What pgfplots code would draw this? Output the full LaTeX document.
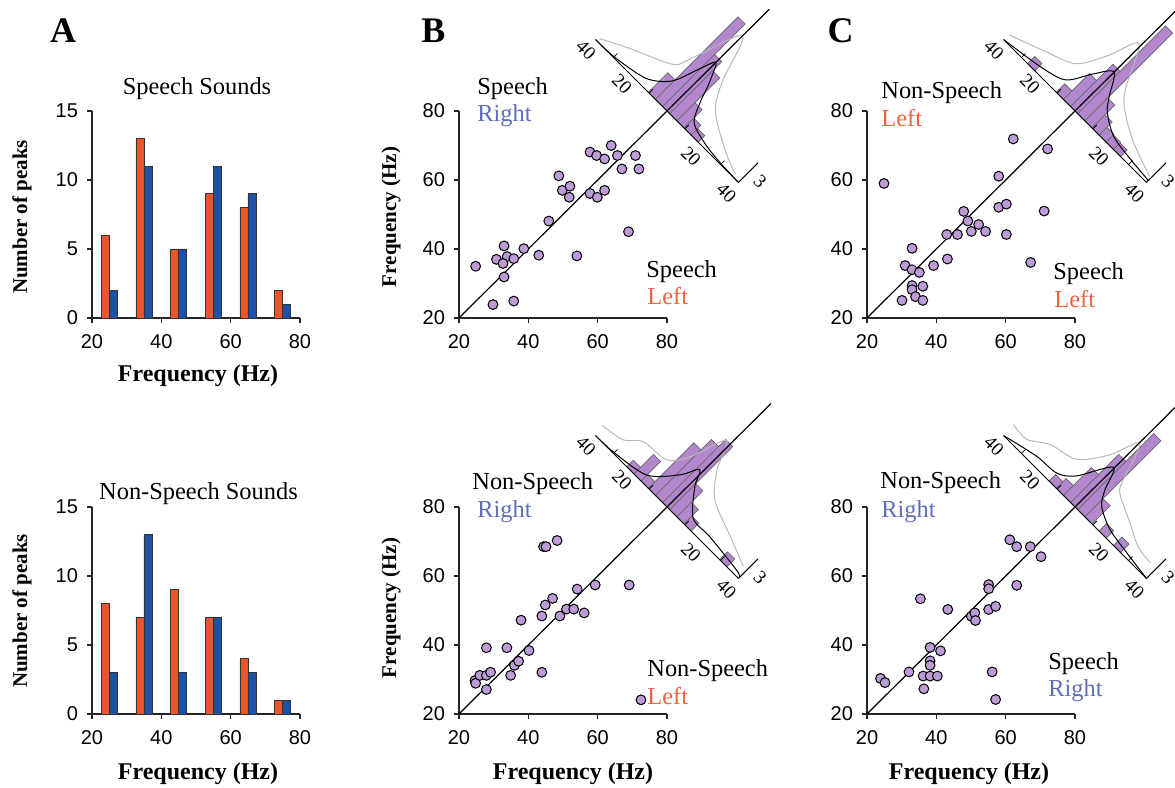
\documentclass[border=0pt]{standalone}
\usepackage{fontspec}
\setmainfont{Liberation Serif}
\newfontfamily\sansf{Liberation Sans}
\usepackage{pgfplots}
\pgfplotsset{compat=1.18}
\definecolor{orng}{RGB}{233,85,45}
\definecolor{blu}{RGB}{30,80,165}
\definecolor{ptfill}{RGB}{188,155,215}
\definecolor{histfill}{RGB}{178,135,205}
\definecolor{rightc}{RGB}{95,110,185}
\definecolor{leftc}{RGB}{235,100,65}
\newcommand\tickf{\sansf\fontsize{10}{12}\selectfont}
\newcommand\txtf{\fontsize{12.2}{14}\selectfont}
\newcommand\xlabf{\bfseries\fontsize{12}{14}\selectfont}
\newcommand\ylabf{\bfseries\fontsize{10.5}{12}\selectfont}
\newcommand\letf{\bfseries\fontsize{18}{20}\selectfont}
\newcommand\insf{\fontsize{9.5}{10}\selectfont}
\pgfplotsset{
  panel/.style={scale only axis, width=104pt, height=103.5pt, anchor=south west,
    axis x line*=bottom, axis y line*=left, tick align=outside,
    major tick length=2.5pt,
    axis line style={line width=0.6pt, black!85},
    tick style={line width=0.6pt, black!85},
    /pgf/number format/assume math mode=true,
    ticklabel style={font=\tickf},
    xtick={20,40,60,80}, xmin=20, xmax=80,
    xticklabel style={yshift=-2pt},
    yticklabel style={xshift=-1pt},
    clip=false},
  scat/.style={panel, ymin=20, ymax=80, ytick={20,40,60,80}},
  hist/.style={panel, ymin=0, ymax=15, ytick={0,5,10,15}, ybar=0pt, bar width=4pt},
  inset/.style={x=1.2625pt, y=4.6pt, xmin=-40, xmax=40, ymin=0, ymax=16,
    hide axis, clip=false, anchor=south west, at={(-50.5pt,0pt)}},
  pts/.style={only marks, mark=*, mark size=2.45pt, mark options={fill=ptfill, draw=black, line width=0.5pt}},
  hbar/.style={ybar, bar width=5.05pt, bar shift=0pt, fill=histfill, draw=black!60, line width=0.35pt},
  bcurve/.style={black, line width=0.5pt, smooth, tension=0.5},
  gcurve/.style={gray!55, line width=0.5pt, smooth, tension=0.5},
}
\newcommand\insetdeco{%
  \addplot[black, line width=0.5pt] coordinates {(-40,0) (40,0)};
  \addplot[black, line width=0.5pt] coordinates {(40,0) (40,3)};
  \draw[black, line width=0.4pt] (axis cs:-30,0) -- (axis cs:-30,0.6);
  \draw[black, line width=0.4pt] (axis cs:-10,0) -- (axis cs:-10,0.6);
  \draw[black, line width=0.4pt] (axis cs:10,0) -- (axis cs:10,0.6);
  \draw[black, line width=0.4pt] (axis cs:30,0) -- (axis cs:30,0.6);
}
% labels of an inset whose origin is at (#1,#2)
\newcommand\insetlabels[2]{%
  \begin{scope}[shift={(#1,#2)}]
  \node[font=\insf, rotate=-45, inner sep=0pt] at (-40.5pt,30.5pt) {40};
  \node[font=\insf, rotate=-45, inner sep=0pt] at (-22.5pt,13.5pt) {20};
  \node[font=\insf, rotate=-45, inner sep=0pt] at (12pt,-22.8pt) {20};
  \node[font=\insf, rotate=-45, inner sep=0pt] at (29.8pt,-41pt) {40};
  \node[font=\insf, rotate=-45, inner sep=0pt] at (46.5pt,-35pt) {3};
  \end{scope}}
\begin{document}
\begin{tikzpicture}
\useasboundingbox (0,0) rectangle (587.5pt,394pt);

% ---------- insets (histograms of distance from the diagonal, rotated by -45 degrees) ----------
\begin{scope}[transform canvas={shift={(333.5pt,338.5pt)}, rotate=-45}]
\begin{axis}[inset]
\addplot[hbar] coordinates {(-8.5,3) (-4.5,12.7) (-0.5,8) (3.5,6.6) (7.5,2.8) (11.5,1.5) (15.5,1)};
\addplot[gcurve] coordinates {(-39,0.4) (-28.3,1.9) (-11.6,4.0) (-8.3,5.6) (0,11.6) (7.1,6.6) (13.6,3.7) (27.6,1.4) (36.9,0.4)};
\addplot[bcurve] coordinates {(-40,0) (-30,0.1) (-15,0.9) (-7,2.7) (-3,5.5) (0,7.5) (3,6) (4.7,4.9) (6.6,3.4) (10.8,1.2) (20,0.4) (30,0.1) (40,0)};
\insetdeco
\end{axis}
\end{scope}

\begin{scope}[transform canvas={shift={(537.5pt,338.5pt)}, rotate=-45}]
\begin{axis}[inset]
\addplot[hbar] coordinates {(-24.5,1.1) (-8.5,1.3) (-4.5,4) (-0.5,6.5) (3.5,13.5) (7.5,3.5) (11.5,2) (15.5,1.2) (19.5,1.1) (23.5,1)};
\addplot[gcurve] coordinates {(-39.7,0.8) (-26,2.2) (-13,3.7) (-6.1,6.9) (-1,10.1) (7.5,5.8) (12.6,4.1) (24.3,2.2) (39.2,0.7)};
\addplot[bcurve] coordinates {(-40,0) (-21,0.8) (-11.2,1.7) (-5.4,4.2) (0,6) (5.6,3.7) (9.8,2.3) (19.6,0.9) (40,0.3)};
\insetdeco
\end{axis}
\end{scope}

\begin{scope}[transform canvas={shift={(333.5pt,140.5pt)}, rotate=-45}]
\begin{axis}[inset]
\addplot[hbar] coordinates {(-20.5,1) (-16.5,3) (-12.5,1) (-8.5,7) (-4.5,8.6) (-0.5,9.7) (3.5,4) (7.5,2.2) (11.5,1.2) (31.5,1.2)};
\addplot[gcurve] coordinates {(-41,1.3) (-31,1.8) (-25,3.2) (-13.3,3.6) (-7.6,5.6) (-2,9.7) (3.6,6.7) (11.5,4.2) (26,2.6) (38,1.3)};
\addplot[bcurve] coordinates {(-40,0) (-30.5,0.1) (-14.6,0.9) (-5.3,3.5) (-1.3,5.4) (2.1,3.7) (10.5,1.15) (20.4,1.0) (37,0.5) (40,0.2)};
\insetdeco
\end{axis}
\end{scope}

\begin{scope}[transform canvas={shift={(537.5pt,140.5pt)}, rotate=-45}]
\begin{axis}[inset]
\addplot[hbar] coordinates {(-12.5,1) (-8.5,1.5) (-4.5,4.3) (-0.5,7.4) (3.5,11.7) (7.5,2.8) (15.5,1.15) (23.5,1.3)};
\addplot[gcurve] coordinates {(-40.3,1.6) (-32.4,1.5) (-24.4,2.9) (-12.8,3.8) (-4.8,6.7) (0.3,9.9) (5.9,5.8) (8.7,4.5) (19.9,3.0) (28.8,1.8) (36.7,1.5)};
\addplot[bcurve] coordinates {(-40,0) (-25,0.95) (-14.6,1.2) (-8.3,2.5) (-0.4,6.0) (3.6,3.6) (7.3,2.1) (16.2,0.95) (29,0.4) (40,0)};
\insetdeco
\end{axis}
\end{scope}

\insetlabels{333.5pt}{338.5pt}
\insetlabels{537.5pt}{338.5pt}
\insetlabels{333.5pt}{140.5pt}
\insetlabels{537.5pt}{140.5pt}

% ---------- A: histograms ----------
\begin{axis}[hist, at={(46pt,235pt)}]
\addplot[fill=orng, draw=black!80, line width=0.4pt] coordinates {(25,6) (35,13) (45,5) (55,9) (65,8) (75,2)};
\addplot[fill=blu, draw=black!80, line width=0.4pt] coordinates {(25,2) (35,11) (45,5) (55,11) (65,9) (75,1)};
\end{axis}
\begin{axis}[hist, at={(46pt,37pt)}]
\addplot[fill=orng, draw=black!80, line width=0.4pt] coordinates {(25,8) (35,7) (45,9) (55,7) (65,4) (75,1)};
\addplot[fill=blu, draw=black!80, line width=0.4pt] coordinates {(25,3) (35,13) (45,3) (55,7) (65,3) (75,1)};
\end{axis}

% ---------- B top ----------
\begin{axis}[scat, at={(229.5pt,235pt)}]
\addplot[black, line width=0.6pt] coordinates {(20,20) (109.5,109.5)};
\addplot[pts] coordinates {(24.8,35.0) (30.8,37.0) (33.0,40.9) (33.9,37.8) (32.7,35.8) (35.8,37.2) (33.0,31.9) (29.8,23.9) (35.8,24.9) (38.7,40.1) (43.0,38.2) (45.9,48.1) (48.8,61.2) (49.8,57.0) (52.0,58.2) (51.8,55.0) (54.0,38.0) (57.8,68.1) (57.8,56.1) (59.7,67.1) (59.9,55.0) (62.0,66.1) (62.0,57.0) (63.9,70.0) (65.7,67.1) (67.0,63.2) (68.9,45.0) (70.9,67.1) (71.9,63.2)};
\end{axis}

% ---------- B bottom ----------
\begin{axis}[scat, at={(229.5pt,37pt)}]
\addplot[black, line width=0.6pt] coordinates {(20,20) (110,110)};
\addplot[pts] coordinates {(24.6,29.7) (24.8,28.9) (26.0,31.2) (27.9,39.2) (27.9,31.2) (27.9,27.1) (29.1,32.1) (33.8,39.2) (34.9,31.2) (36.0,34.1) (37.2,35.3) (37.9,47.2) (40.2,38.4) (43.9,48.4) (43.9,32.1) (44.4,68.5) (45.1,68.5) (44.9,51.6) (47.0,53.5) (48.3,70.3) (49.1,48.4) (51.0,50.4) (53.1,50.4) (54.1,56.2) (56.1,49.3) (59.3,57.4) (69.1,57.4) (72.5,24.1)};
\end{axis}

% ---------- C top ----------
\begin{axis}[scat, at={(433.5pt,235pt)}]
\addplot[black, line width=0.6pt] coordinates {(20,20) (110,110)};
\addplot[pts] coordinates {(24.9,59.0) (30.1,25.1) (31.0,35.2) (33.0,40.2) (33.0,34.0) (33.0,29.4) (33.0,28.2) (34.0,26.2) (35.1,33.2) (36.1,29.2) (36.1,25.1) (39.2,35.2) (43.2,37.1) (43.0,44.2) (46.1,44.2) (47.9,50.9) (49.1,48.1) (50.1,45.1) (52.2,47.1) (54.2,45.1) (58.0,61.1) (58.0,52.1) (60.2,53.0) (60.2,44.2) (62.2,71.9) (67.2,36.1) (71.1,51.0) (72.1,69.0)};
\end{axis}

% ---------- C bottom ----------
\begin{axis}[scat, at={(433.5pt,37pt)}]
\addplot[black, line width=0.6pt] coordinates {(20,20) (110,110)};
\addplot[pts] coordinates {(23.9,30.3) (25.2,29.1) (32.1,32.2) (35.4,53.4) (36.4,27.3) (36.2,31.0) (38.2,31.0) (38.2,39.3) (38.2,35.4) (38.2,34.1) (40.3,31.0) (41.2,38.3) (43.3,50.3) (50.1,48.3) (51.1,49.3) (51.3,47.1) (55.1,57.5) (55.1,56.3) (55.1,50.3) (57.1,51.2) (56.1,32.2) (57.1,24.2) (61.2,70.5) (63.2,68.5) (63.2,57.3) (67.1,68.5) (70.2,65.6)};
\end{axis}

% ---------- texts ----------
\node[font=\letf, anchor=base] at (31.5pt,372.5pt) {A};
\node[font=\letf, anchor=base] at (216.75pt,372.5pt) {B};
\node[font=\letf, anchor=base] at (420.25pt,372.5pt) {C};

\node[font=\txtf, anchor=base] at (98.5pt,346.5pt) {Speech Sounds};
\node[font=\txtf, anchor=base] at (99.25pt,144pt) {Non-Speech Sounds};

\node[font=\xlabf, anchor=base] at (99pt,203pt) {Frequency (Hz)};
\node[font=\xlabf, anchor=base] at (99pt,4pt) {Frequency (Hz)};
\node[font=\xlabf, anchor=base] at (286.5pt,4pt) {Frequency (Hz)};
\node[font=\xlabf, anchor=base] at (484.5pt,4pt) {Frequency (Hz)};

\node[font=\ylabf, anchor=base, rotate=90] at (13.5pt,285.5pt) {Number of peaks};
\node[font=\ylabf, anchor=base, rotate=90] at (13.5pt,88.5pt) {Number of peaks};
\node[font=\ylabf, anchor=base, rotate=90] at (198pt,285.5pt) {Frequency (Hz)};
\node[font=\ylabf, anchor=base, rotate=90] at (198pt,90pt) {Frequency (Hz)};

\node[font=\txtf, anchor=base west, inner sep=0pt] at (238.5pt,346.5pt) {Speech};
\node[font=\txtf, anchor=base west, inner sep=0pt, text=rightc] at (238.5pt,333pt) {Right};
\node[font=\txtf, anchor=base west, inner sep=0pt] at (323pt,255pt) {Speech};
\node[font=\txtf, anchor=base west, inner sep=0pt, text=leftc] at (323.5pt,241.5pt) {Left};

\node[font=\txtf, anchor=base west, inner sep=0pt] at (236pt,149pt) {Non-Speech};
\node[font=\txtf, anchor=base west, inner sep=0pt, text=rightc] at (238.5pt,135pt) {Right};
\node[font=\txtf, anchor=base west, inner sep=0pt] at (323.5pt,55.5pt) {Non-Speech};
\node[font=\txtf, anchor=base west, inner sep=0pt, text=leftc] at (323.5pt,41.5pt) {Left};

\node[font=\txtf, anchor=base west, inner sep=0pt] at (440.5pt,344.5pt) {Non-Speech};
\node[font=\txtf, anchor=base west, inner sep=0pt, text=leftc] at (440.5pt,330.5pt) {Left};
\node[font=\txtf, anchor=base west, inner sep=0pt] at (526.5pt,254pt) {Speech};
\node[font=\txtf, anchor=base west, inner sep=0pt, text=leftc] at (527pt,240pt) {Left};

\node[font=\txtf, anchor=base west, inner sep=0pt] at (440pt,149.5pt) {Non-Speech};
\node[font=\txtf, anchor=base west, inner sep=0pt, text=rightc] at (440.5pt,135pt) {Right};
\node[font=\txtf, anchor=base west, inner sep=0pt] at (524pt,59pt) {Speech};
\node[font=\txtf, anchor=base west, inner sep=0pt, text=rightc] at (524pt,45.5pt) {Right};
\end{tikzpicture}
\end{document}
